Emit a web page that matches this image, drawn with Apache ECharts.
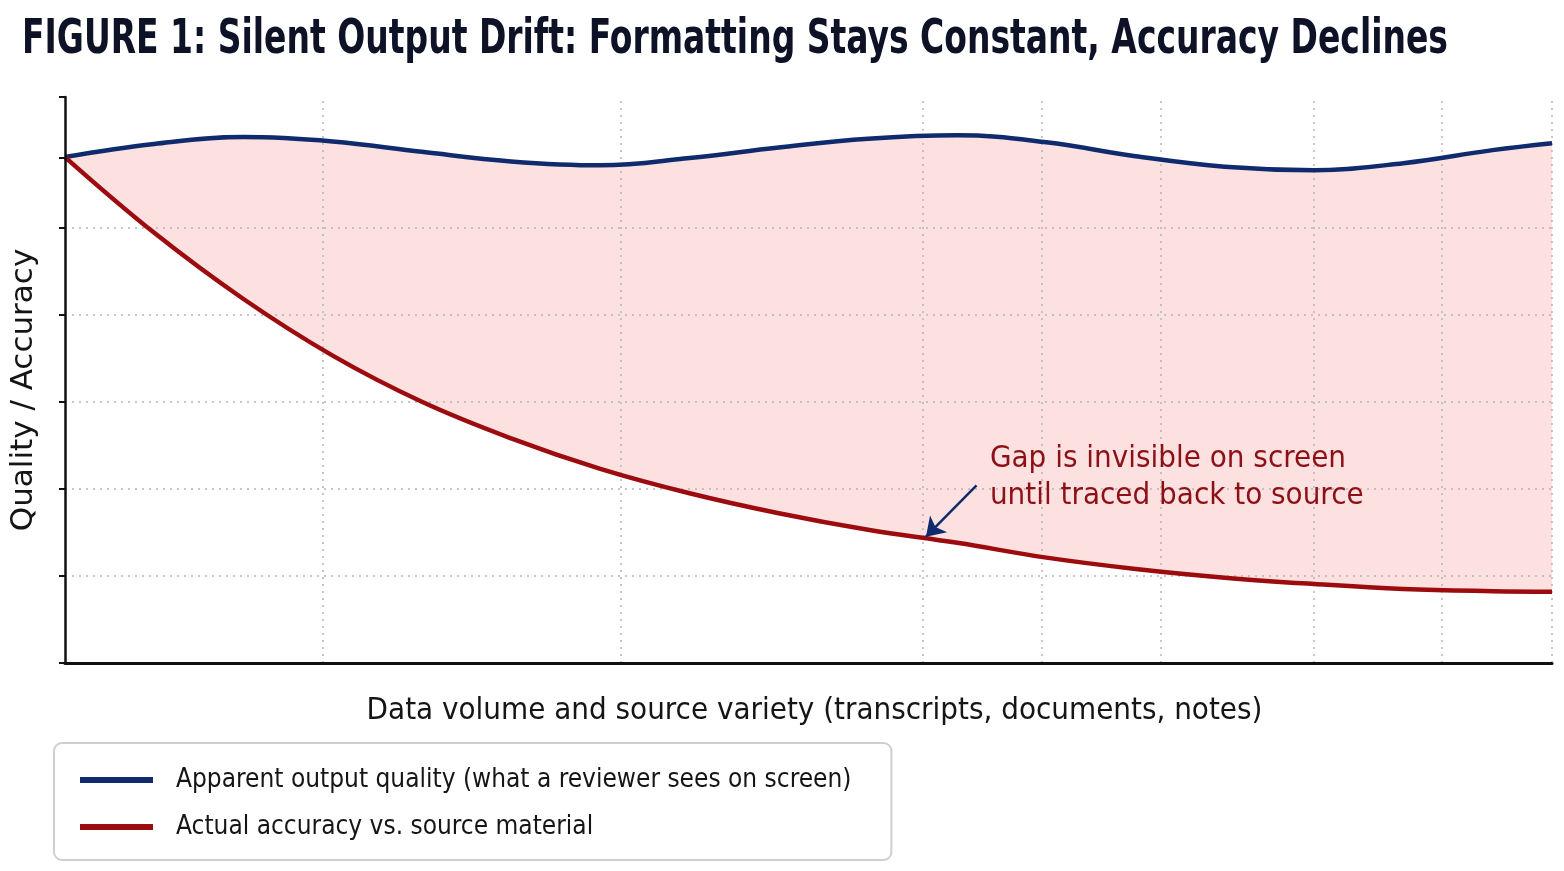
<!DOCTYPE html>
<html>
<head>
<meta charset="utf-8">
<script src="https://cdn.jsdelivr.net/npm/echarts@6/dist/echarts.min.js"></script>
<style>
html, body { margin: 0; padding: 0; background: #fff; }
#app { width: 1564px; height: 871px; }
</style>
</head>
<body>
<div id="app"></div>
<script>
// values: x runs 0..100 across the plot, y 0..6.5 up the axis
var xPoints = [0, 6, 12, 18, 24, 30, 36, 42, 48, 54, 60, 66, 72, 78, 84, 90, 96, 100];
var apparentQuality = [5.81, 5.96, 6.04, 5.99, 5.87, 5.76, 5.715, 5.80, 5.92, 6.02, 6.06, 5.98, 5.82, 5.70, 5.66, 5.74, 5.89, 5.97];
var actualAccuracy = [5.81, 4.94, 4.18, 3.53, 3.00, 2.58, 2.23, 1.95, 1.72, 1.53, 1.38, 1.21, 1.08, 0.98, 0.907, 0.85, 0.825, 0.819];
var yTickValues = [0, 1, 2, 3, 4, 5, 5.8, 6.5];
var yGridValues = [1, 2, 3, 4, 5];
var xGridValues = [17.3, 37.4, 57.7, 65.7, 73.7, 84, 92.6, 100];
var noteAt = [62.2, 2.135];
var arrowFrom = [61.3, 2.04];
var arrowTo = [57.9, 1.45];

var seriesNames = [
    'Apparent output quality (what a reviewer sees on screen)',
    'Actual accuracy vs. source material'
];
var titleText = 'FIGURE 1: Silent Output Drift: Formatting Stays Constant, Accuracy Declines';
var noteText = 'Gap is invisible on screen\nuntil traced back to source';

var narrowFont = "'Liberation Sans Narrow', 'DejaVu Sans Condensed', 'Roboto Condensed', sans-serif";

window.onload = function() {
    var myChart = echarts.init(document.getElementById('app'));

    function pairs(values) {
        var out = [];
        for (var i = 0; i < xPoints.length; i++) {
            out.push([xPoints[i], values[i]]);
        }
        return out;
    }

    var gridLines = [];
    yGridValues.forEach(function(v) { gridLines.push({ yAxis: v }); });
    xGridValues.forEach(function(v) { gridLines.push({ xAxis: v }); });

    var option = {
        animation: false,
        backgroundColor: '#fff',
        graphic: [{
            type: 'text',
            x: 22,
            y: 17,
            scaleX: 0.764,
            silent: true,
            style: {
                text: titleText,
                fontFamily: narrowFont,
                fontWeight: 'bold',
                fontSize: 48,
                fill: '#0d1226',
                textVerticalAlign: 'top'
            }
        }],
        legend: {
            data: seriesNames,
            orient: 'vertical',
            left: 54,
            top: 743,
            padding: [22, 40, 18, 26],
            itemGap: 17,
            itemWidth: 73,
            itemHeight: 6,
            icon: 'rect',
            selectedMode: false,
            borderColor: '#cfcfcf',
            borderWidth: 2,
            borderRadius: 8,
            textStyle: {
                fontFamily: narrowFont,
                fontSize: 26,
                lineHeight: 30,
                color: '#151515',
                padding: [0, 0, 0, 18]
            }
        },
        grid: {
            left: 64,
            right: 12,
            top: 97,
            bottom: 208
        },
        xAxis: {
            type: 'value',
            min: 0,
            max: 100,
            z: 5,
            name: 'Data volume and source variety (transcripts, documents, notes)',
            nameLocation: 'middle',
            nameGap: 32,
            nameTextStyle: {
                fontFamily: narrowFont,
                fontSize: 31,
                color: '#151515',
                padding: [0, 0, 0, 12]
            },
            axisLine: { lineStyle: { color: '#111', width: 3 } },
            axisTick: { show: false },
            axisLabel: { show: false },
            splitLine: { show: false }
        },
        yAxis: {
            type: 'value',
            min: 0,
            max: 6.5,
            z: 5,
            name: 'Quality / Accuracy',
            nameLocation: 'middle',
            nameGap: 26,
            nameTextStyle: {
                fontFamily: 'DejaVu Sans',
                fontSize: 31,
                color: '#151515',
                padding: [0, 20, 0, 0]
            },
            axisLine: { show: true, lineStyle: { color: '#111', width: 2.5 } },
            axisTick: {
                show: true,
                customValues: yTickValues,
                length: 6,
                lineStyle: { color: '#111', width: 2 }
            },
            axisLabel: { show: false },
            splitLine: { show: false }
        },
        series: [{
            // pink band: area under the apparent curve...
            name: 'upperFill',
            type: 'line',
            data: pairs(apparentQuality),
            smooth: 0.4,
            showSymbol: false,
            silent: true,
            lineStyle: { width: 0, opacity: 0 },
            areaStyle: { color: '#fde0e0', opacity: 1 },
            z: 1
        }, {
            // ...with the part under the actual curve painted back to white
            name: 'lowerFill',
            type: 'line',
            data: pairs(actualAccuracy),
            smooth: 0.4,
            showSymbol: false,
            silent: true,
            lineStyle: { width: 0, opacity: 0 },
            areaStyle: { color: '#ffffff', opacity: 1 },
            z: 1.5,
            markLine: {
                silent: true,
                symbol: ['none', 'none'],
                z: 2,
                label: { show: false },
                lineStyle: { color: '#b5b5b5', width: 1.5, type: [2, 5] },
                data: gridLines
            }
        }, {
            name: seriesNames[0],
            type: 'line',
            data: pairs(apparentQuality),
            smooth: 0.4,
            showSymbol: false,
            color: '#0f2b6e',
            lineStyle: { width: 4.5, color: '#0f2b6e' },
            z: 3
        }, {
            name: seriesNames[1],
            type: 'line',
            data: pairs(actualAccuracy),
            smooth: 0.4,
            showSymbol: false,
            color: '#9c0c0f',
            lineStyle: { width: 4.5, color: '#9c0c0f' },
            z: 3,
            markPoint: {
                symbol: 'rect',
                symbolSize: 0,
                silent: true,
                label: {
                    show: true,
                    position: 'right',
                    distance: 0,
                    formatter: noteText,
                    fontFamily: narrowFont,
                    fontSize: 31,
                    lineHeight: 37,
                    color: '#8c1016'
                },
                data: [{ coord: noteAt }]
            },
            markLine: {
                silent: true,
                symbol: ['none', 'arrow'],
                symbolSize: 18,
                label: { show: false },
                lineStyle: { color: '#0f2b6e', width: 2.5, type: 'solid' },
                data: [[{ coord: arrowFrom }, { coord: arrowTo }]]
            }
        }]
    };
    myChart.setOption(option);
};
</script>
</body>
</html>
